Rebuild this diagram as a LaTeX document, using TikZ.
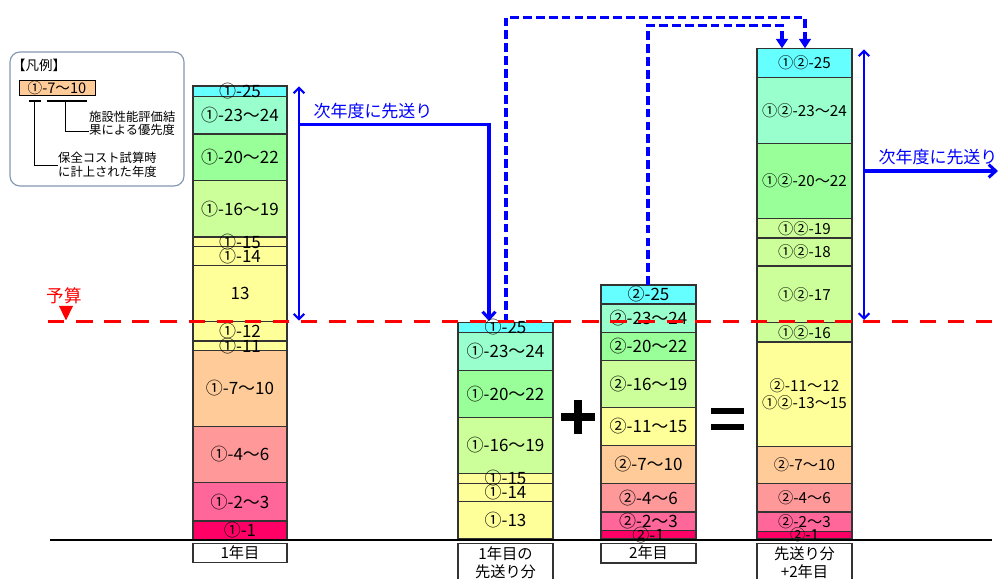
\documentclass[tikz,border=0pt]{standalone}
\usepackage{fontspec}
\setmainfont{Noto Sans CJK JP}
\usepackage{xcolor}
\usepackage{tikz}
\usetikzlibrary{arrows.meta, calc}
\definecolor{c25}{HTML}{66FFFF}
\definecolor{c23}{HTML}{99FFCC}
\definecolor{c20}{HTML}{99FF99}
\definecolor{c16}{HTML}{CCFF99}
\definecolor{c11}{HTML}{FFFF99}
\definecolor{c7}{HTML}{FFCC99}
\definecolor{c4}{HTML}{FF9999}
\definecolor{c2}{HTML}{FF6699}
\definecolor{c1}{HTML}{FF0066}
\definecolor{lgline}{HTML}{8497B0}
\pgfdeclarelayer{fg}
\pgfdeclarelayer{top}
\pgfsetlayers{main,fg,top}
\tikzstyle{seg} = [draw=black!80, line width=1.1pt]
\tikzstyle{lbl} = [inner sep=0pt, align=center, font=\fontsize{14.5pt}{16pt}\selectfont]
\tikzstyle{lbls} = [inner sep=0pt, align=center, font=\fontsize{13pt}{15pt}\selectfont]
\tikzstyle{yearbox} = [draw=black!80, fill=white, line width=1.1pt]
\tikzstyle{yeartxt} = [inner sep=0pt, align=center, font=\fontsize{13pt}{15.7pt}\selectfont]
\tikzstyle{budget} = [red, line width=3pt, dash pattern=on 14pt off 10pt]
\tikzstyle{carry} = [blue, line width=2.6pt, -{Straight Barb[length=6pt,width=11pt]}]
\tikzstyle{span} = [blue, line width=1.8pt, {Straight Barb[length=4.5pt,width=9pt]}-{Straight Barb[length=4.5pt,width=9pt]}]
\tikzstyle{merge} = [blue, line width=3pt, dash pattern=on 7.5pt off 3.5pt, -{Triangle[length=8pt,width=10pt]}]
\tikzstyle{notetxt} = [blue, inner sep=0pt, font=\fontsize{14.5pt}{16pt}\selectfont]
\begin{document}
\begin{tikzpicture}[x=0.3mm,y=-0.3mm]
    \clip (0,0) rectangle (1000,579);
    % legend
    \draw[lgline, line width=1pt, rounded corners=3mm] (10,52) rectangle (184,186);
    \node[anchor=west, inner sep=0pt, font=\fontsize{11.5pt}{13pt}\selectfont] (lgtitle) at (12,65) {【凡例】};
    \node[draw=black, fill=c7, line width=0.8pt, minimum width=22.8mm, minimum height=4.5mm, inner sep=0pt, font=\fontsize{12.5pt}{14pt}\selectfont] (lgbox) at (57,87.5) {①-7～10};
    \draw[line width=2.5pt] (29,101) -- (41,101) (47,101) -- (87,101);
    \node[anchor=west, align=left, inner sep=0pt, font=\fontsize{10.5pt}{11.4pt}\selectfont] (lgeval) at (89,123.5) {施設性能評価結\\果による優先度};
    \node[anchor=west, align=left, inner sep=0pt, font=\fontsize{10.5pt}{11.7pt}\selectfont] (lgcost) at (58,165) {保全コスト試算時\\に計上された年度};
    \coordinate (lgb1) at (34.3,101);
    \coordinate (lgb2) at (65,101);
    \draw[line width=0.8pt] (lgb2) |- ([yshift=-2.4mm]lgeval.west);
    \draw[line width=0.8pt] (lgb1) |- (lgcost.west);
    % 1年目
    \foreach \yt/\yb/\clr/\txt [count=\i] in {86/96.7/c25/①-25, 96.7/134/c23/①-23～24, 134/180.7/c20/①-20～22, 180.7/237/c16/①-16～19, 237/246.7/c11/①-15, 246.7/265.7/c11/①-14, 265.7/321.7/c11/13, 321.7/341/c11/①-12, 341/350.3/c11/①-11, 350.3/426.3/c7/①-7～10, 426.3/482.7/c4/①-4～6, 482.7/521/c2/①-2～3, 521/539.3/c1/①-1}{
        \draw[seg, fill=\clr] (193,\yt) rectangle (287,\yb);
        \begin{pgfonlayer}{fg}\node[lbl] (a\i) at (240,{(\yt+\yb)/2}) {\txt};\end{pgfonlayer}
    }
    % 1年目の先送り分
    \foreach \yt/\yb/\clr/\txt [count=\i] in {322.7/332.3/c25/①-25, 332.3/370.3/c23/①-23～24, 370.3/417.3/c20/①-20～22, 417.3/473.3/c16/①-16～19, 473.3/483.3/c11/①-15, 483.3/501.7/c11/①-14, 501.7/538.7/c11/①-13}{
        \draw[seg, fill=\clr] (458,\yt) rectangle (553,\yb);
        \begin{pgfonlayer}{fg}\node[lbl] (b\i) at (505.5,{(\yt+\yb)/2}) {\txt};\end{pgfonlayer}
    }
    % 2年目
    \foreach \yt/\yb/\clr/\txt [count=\i] in {285/304/c25/②-25, 304/332.3/c23/②-23～24, 332.3/360.3/c20/②-20～22, 360.3/407.3/c16/②-16～19, 407.3/445.3/c11/②-11～15, 445.3/483.3/c7/②-7～10, 483.3/512/c4/②-4～6, 512/530.7/c2/②-2～3, 530.7/538.7/c1/②-1}{
        \draw[seg, fill=\clr] (601,\yt) rectangle (696,\yb);
        \begin{pgfonlayer}{fg}\node[lbl] (c\i) at (648.5,{(\yt+\yb)/2}) {\txt};\end{pgfonlayer}
    }
    % 先送り分+2年目
    \foreach \yt/\yb/\clr/\txt [count=\i] in {48.3/77.3/c25/①②-25, 77.3/143.7/c23/①②-23～24, 143.7/218.7/c20/①②-20～22, 218.7/238/c16/①②-19, 238/266/c16/①②-18, 266/322.7/c16/①②-17, 322.7/342/c16/①②-16, 342/446.7/c11/{②-11～12\\①②-13～15}, 446.7/483.7/c7/②-7～10, 483.7/512/c4/②-4～6, 512/531.3/c2/②-2～3, 531.3/538.3/c1/②-1}{
        \draw[seg, fill=\clr] (757,\yt) rectangle (852,\yb);
        \begin{pgfonlayer}{fg}\node[lbls] (d\i) at (804.5,{(\yt+\yb)/2}) {\txt};\end{pgfonlayer}
    }
    % ground line and year boxes
    \draw[line width=1.6pt] (50,540) -- (992,540);
    \draw[yearbox] (193,543.5) rectangle (287,562.7);
    \node[yeartxt] (y1) at (240,553) {1年目};
    \draw[yearbox] (458,543.5) rectangle (553,600);
    \node[yeartxt] (y2) at (505.5,562.5) {1年目の\\先送り分};
    \draw[yearbox] (601,543.5) rectangle (696,563);
    \node[yeartxt] (y3) at (648.5,553) {2年目};
    \draw[yearbox] (757,543.5) rectangle (852,600);
    \node[yeartxt] (y4) at (804.5,562.5) {先送り分\\+2年目};
    % plus and equals
    \draw[line width=6.8pt] (561,417) -- (595,417) (578,400) -- (578,434);
    \draw[line width=4.7pt] (711,411) -- (744,411) (711,427) -- (744,427);
    % carry-over arrows
    \coordinate (a1top) at (299,86.5);
    \coordinate (a1bud) at (299,320.7);
    \coordinate (a1mid) at (299,124.3);
    \coordinate (b1top) at (489,321);
    \draw[span] (a1top) -- (a1bud);
    \draw[carry] (a1mid) -| (b1top);
    \node[notetxt] (note1) at (373,111) {次年度に先送り};
    \coordinate (b1src) at (506,322.7);
    \coordinate (topA) at (506,17.5);
    \coordinate (d1in) at (805,48.3);
    \draw[merge] (b1src) -- (topA) -| (d1in);
    \coordinate (c1src) at (648,285);
    \coordinate (topB) at (648,25.5);
    \coordinate (d2in) at (782,48.3);
    \draw[merge] (c1src) -- (topB) -| (d2in);
    \coordinate (d4top) at (864,49.3);
    \coordinate (d4bud) at (864,320);
    \coordinate (d4mid) at (864,171);
    \coordinate (d4out) at (998,171);
    \draw[span] (d4top) -- (d4bud);
    \draw[carry] (d4mid) -- (d4out);
    \node[notetxt] (note2) at (938,157) {次年度に先送り};
    % budget line
    \begin{pgfonlayer}{top}
        \coordinate (budL) at (48,321.7);
        \coordinate (budR) at (1000,321.7);
        \draw[budget] (budL) -- (budR);
        \fill[red] (59,306) -- (73,306) -- (66,320.5) -- cycle;
        \node[red, inner sep=0pt, font=\fontsize{15pt}{17pt}\selectfont] (budtxt) at (64,296) {予算};
    \end{pgfonlayer}
\end{tikzpicture}
\end{document}
